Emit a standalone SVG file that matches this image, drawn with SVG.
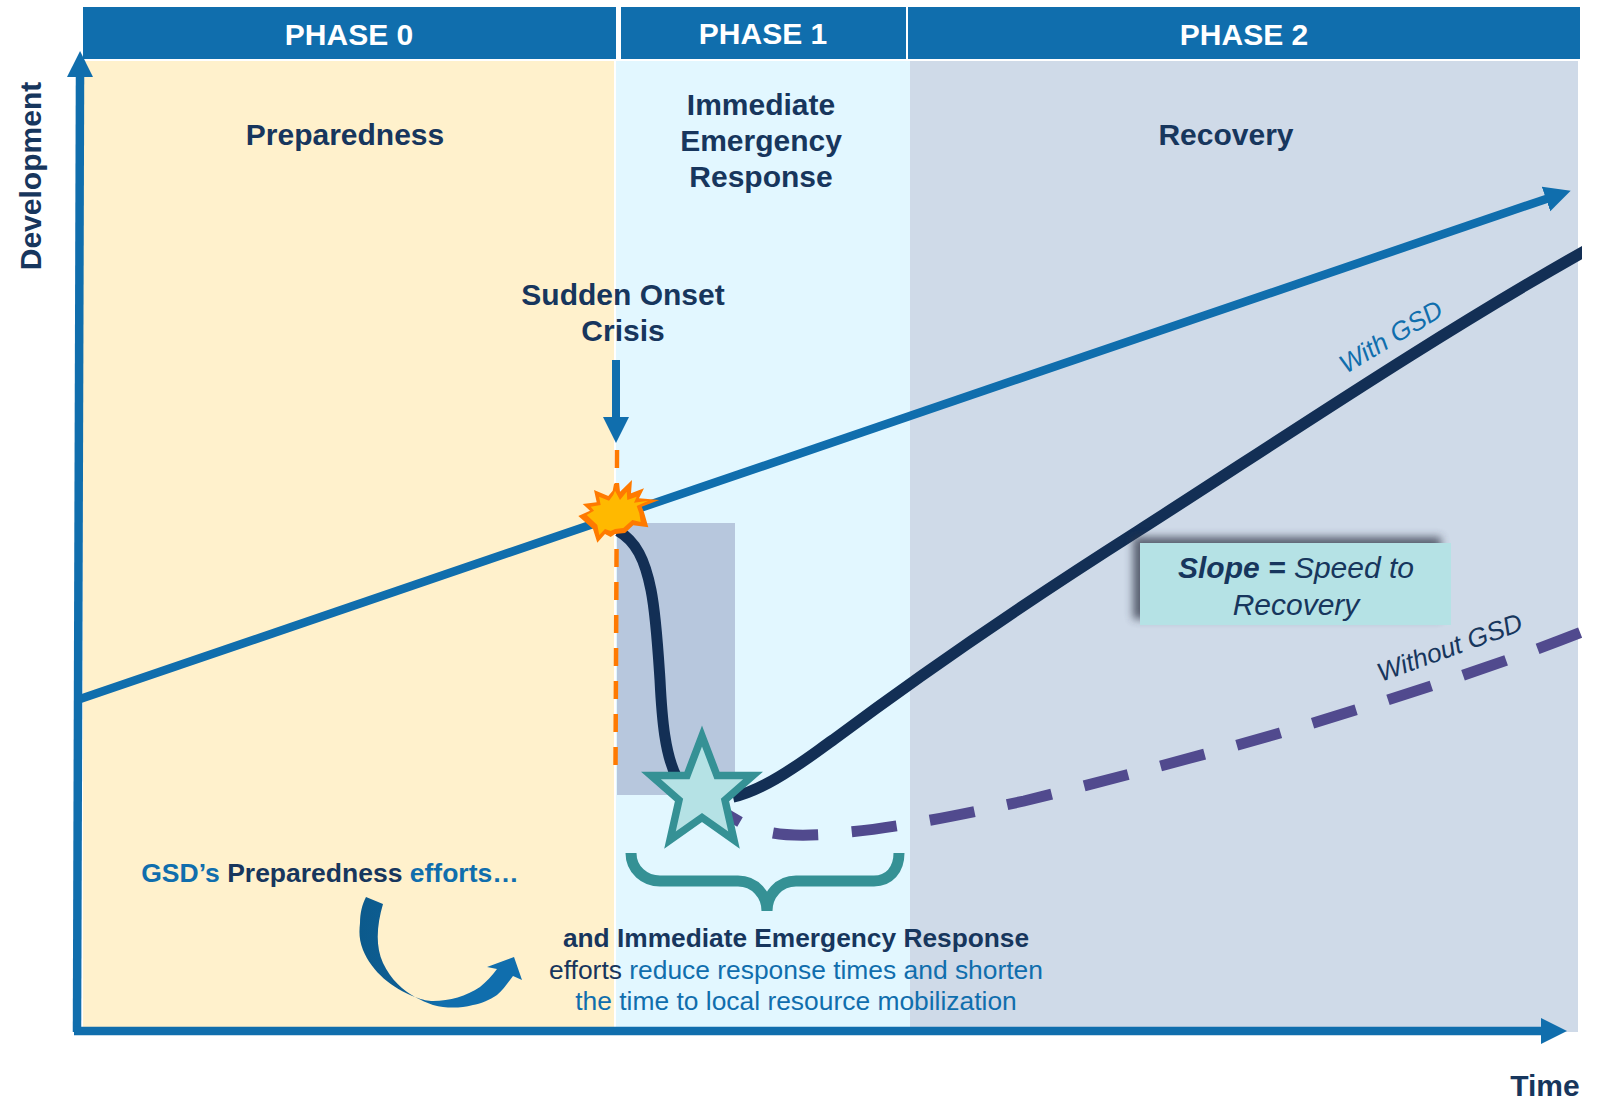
<svg xmlns="http://www.w3.org/2000/svg" width="1605" height="1101" viewBox="0 0 1605 1101">
<style>
text{font-family:"Liberation Sans",Arial,sans-serif;fill:#17365d}
.h{font-size:30px;font-weight:700;fill:#fff;text-anchor:middle}
.t{font-size:30px;font-weight:700;text-anchor:middle}
.b{font-size:26.4px;text-anchor:middle}
.hd{fill:#106ead}
</style>
<defs>
<marker id="ah" markerUnits="userSpaceOnUse" markerWidth="30" markerHeight="30" refX="1" refY="13" orient="auto"><path d="M0,0L26,13L0,26Z" fill="#106ead"/></marker>
<linearGradient id="cg" x1="0" y1="0" x2="1" y2="0"><stop offset="0" stop-color="#0c5a8c"/><stop offset=".3" stop-color="#0e5f95"/><stop offset=".5" stop-color="#106ead"/></linearGradient>
<filter id="sh" x="-20%" y="-30%" width="140%" height="160%"><feGaussianBlur stdDeviation="4.5"/></filter>
<clipPath id="cp"><rect x="0" y="0" width="1582" height="1101"/></clipPath>
</defs>
<g id="phase-backgrounds">
<rect x="83" y="61" width="531" height="971" fill="#fff1cc"/>
<rect x="616" y="61" width="294" height="971" fill="#e2f7ff"/>
<rect x="910" y="61" width="668" height="971" fill="#cfdae8"/>
</g>
<g id="phase0"><rect x="83" y="7" width="533" height="52" fill="#106ead"/><text class="h" x="349" y="45">PHASE 0</text><text class="t" x="345" y="145">Preparedness</text></g>
<g id="phase1"><rect x="621" y="7" width="285" height="52" fill="#106ead"/><text class="h" x="763" y="44">PHASE 1</text><text class="t" x="761" y="115">Immediate</text><text class="t" x="761" y="151">Emergency</text><text class="t" x="761" y="187">Response</text></g>
<g id="phase2"><rect x="908" y="7" width="672" height="52" fill="#106ead"/><text class="h" x="1244" y="45">PHASE 2</text><text class="t" x="1226" y="145">Recovery</text></g>
<rect id="impact-zone" x="617" y="523" width="118" height="272" fill="#b7c7dd"/>
<g id="connectors" fill="none">
<path id="onset-line" d="M617,450L615.5,768" stroke="#ff7a00" stroke-width="4.5" stroke-dasharray="18 15"/>
<path id="without-gsd" d="M728,815L740,822M773,833C790,836 820,836 850,832C900,827 960,815 1024,801C1120,777 1200,756 1280,733C1380,703 1480,672 1582,632" stroke="#514a8e" stroke-width="11" stroke-dasharray="45.5 33.5"/>
<path id="with-gsd" d="M80,699L1547,198.7" stroke="#106ead" stroke-width="8.5" marker-end="url(#ah)"/>
<path id="fall" d="M618,531C636,541 645,560 651,590C656,615 658,650 660,680C662,720 665,755 677,778" stroke="#132f55" stroke-width="11"/>
<path id="rise" clip-path="url(#cp)" d="M733,797C755,792 775,780 793,768C810,757 820,749 833,740C920,675 1020,606 1138,531C1265,450 1430,338 1590,248" stroke="#132f55" stroke-width="11.5"/>
<path id="onset-arrow" d="M616,360V418" stroke="#106ead" stroke-width="8" marker-end="url(#ah)"/>
<path id="y-axis" d="M77,1032L80,76" stroke="#106ead" stroke-width="8.5" marker-end="url(#ah)"/>
<path id="x-axis" d="M74,1031H1542" stroke="#106ead" stroke-width="8.5" marker-end="url(#ah)"/>
<path id="brace" d="M631,853C631,870 645,881 660,881H738C755,881 767,895 767,911C767,895 779,881 796,881H874C889,881 899,870 899,853" stroke="#359195" stroke-width="11"/>
<path id="curved-arrow" d="M366,897L383,904C377,925 375,945 383,963C391,980 403,990 415,997C423,1000 428,1001 433,1001C450,1001 466,996 480,987C486,982 492,976 497,969L487,967L514,957L522,980L513,976C507,984 503,990 497,995C490,1000 480,1004 473,1005C466,1007 460,1007.5 453,1007.5C446,1007.5 440,1007 433,1005C427,1003 421,1000 415,997C392,988 372,972 363,950C359,940 359,932 360,923C360,913 362,905 366,897Z" fill="url(#cg)"/>
</g>
<g id="burst">
<polygon points="614,484 619,483.3 620,491.7 632,480 631,493.3 644,488.3 639,498.3 659.3,500 641.7,506.7 644,512.3 648.3,527.3 633.3,525.3 625,533 615,534 610.7,537 605,534 597.3,542.7 593,529 578.3,516 590,510.7 582.7,504 596.7,502.3 594,490 608.3,496 612.7,490.7" fill="#ff7a00"/>
<polygon points="615,490.7 620,500 626.7,491.7 627.3,500 636.7,496.7 634,502.7 648.3,500.7 636.7,506 639.3,513.3 640.7,522 632.3,520 623.3,528 615,529 610.7,531 605,529 599.3,535 597.3,525 586.7,515 594,510.7 590.7,506.7 600.7,505 599,496.7 609,500.7 613.3,495" fill="#ffb900"/>
</g>
<g id="star"><polygon points="702,736 717,775.5 753,775.5 725,800 734,840 702,817.5 670,840 679,800 651,775.5 687,775.5" fill="#b5e2e5" stroke="#359195" stroke-width="7.5"/></g>
<g id="slope-box">
<rect x="1133" y="537" width="308" height="82" fill="#33384a" opacity=".75" filter="url(#sh)"/>
<rect x="1140" y="543" width="311" height="82" fill="#b5e2e5"/>
<text x="1296" y="578" font-size="30" font-style="italic" text-anchor="middle"><tspan font-weight="700">Slope =</tspan> Speed to</text>
<text x="1296" y="615" font-size="30" font-style="italic" text-anchor="middle">Recovery</text>
</g>
<g id="labels">
<text class="t" x="623" y="305">Sudden Onset</text>
<text class="t" x="623" y="341">Crisis</text>
<text class="t" transform="translate(41,176) rotate(-90)">Development</text>
<text class="t" x="1545" y="1096">Time</text>
<text x="330" y="882" font-size="26.5" font-weight="700" text-anchor="middle"><tspan class="hd">GSD’s </tspan>Preparedness <tspan class="hd">efforts…</tspan></text>
<text x="796" y="947" font-size="26.3" font-weight="700" text-anchor="middle">and Immediate Emergency Response</text>
<text class="b" x="796" y="979">efforts <tspan class="hd">reduce response times and shorten</tspan></text>
<text class="b hd" x="796" y="1010">the time to local resource mobilization</text>
<text class="hd" transform="translate(1346,374) rotate(-31)" font-size="26" font-style="italic">With GSD</text>
<text transform="translate(1381,682) rotate(-20)" font-size="26.2" font-style="italic">Without GSD</text>
</g>
</svg>
